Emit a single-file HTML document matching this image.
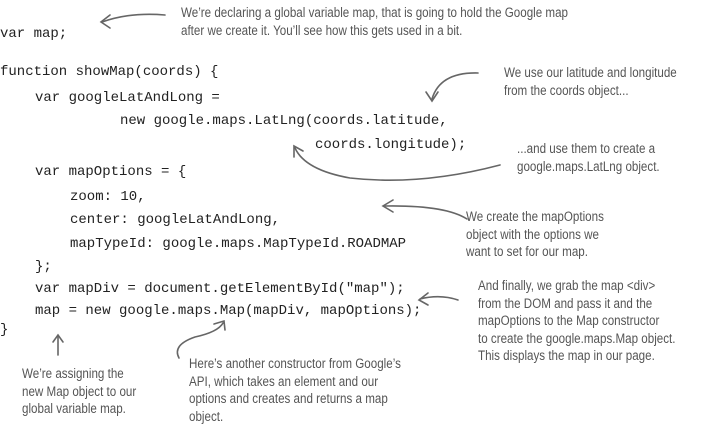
<!DOCTYPE html>
<html><head><meta charset="utf-8"><style>
body{margin:0;width:712px;height:431px;background:#fff;position:relative;overflow:hidden}
.c{position:absolute;font-family:"Liberation Mono",monospace;font-size:14px;color:#222;white-space:pre;line-height:16px}
.h{position:absolute;font-family:"Liberation Sans Narrow","Liberation Sans",sans-serif;font-size:13.5px;color:#555;line-height:17.5px;white-space:pre;transform-origin:0 0;transform:scaleX(0.86)}
svg{position:absolute;left:0;top:0}
</style></head><body>
<div class="c" style="left:0;top:26px">var map;</div>
<div class="c" style="left:0;top:64px">function showMap(coords) {</div>
<div class="c" style="left:35px;top:90px">var googleLatAndLong =</div>
<div class="c" style="left:120px;top:113px">new google.maps.LatLng(coords.latitude,</div>
<div class="c" style="left:315px;top:137px">coords.longitude);</div>
<div class="c" style="left:35px;top:164px">var mapOptions = {</div>
<div class="c" style="left:70px;top:189px">zoom: 10,</div>
<div class="c" style="left:70px;top:212px">center: googleLatAndLong,</div>
<div class="c" style="left:70px;top:236px">mapTypeId: google.maps.MapTypeId.ROADMAP</div>
<div class="c" style="left:35px;top:259px">};</div>
<div class="c" style="left:35px;top:281px">var mapDiv = document.getElementById("map");</div>
<div class="c" style="left:35px;top:303px">map = new google.maps.Map(mapDiv, mapOptions);</div>
<div class="c" style="left:0;top:322px">}</div>

<div class="h" style="left:181px;top:4px">We’re declaring a global variable map, that is going to hold the Google map
after we create it. You’ll see how this gets used in a bit.</div>
<div class="h" style="left:504px;top:64px">We use our latitude and longitude
from the coords object...</div>
<div class="h" style="left:517px;top:140px">...and use them to create a
google.maps.LatLng object.</div>
<div class="h" style="left:466px;top:208px">We create the mapOptions
object with the options we
want to set for our map.</div>
<div class="h" style="left:478px;top:277px">And finally, we grab the map &lt;div&gt;
from the DOM and pass it and the
mapOptions to the Map constructor
to create the google.maps.Map object.
This displays the map in our page.</div>
<div class="h" style="left:22px;top:365px">We’re assigning the
new Map object to our
global variable map.</div>
<div class="h" style="left:189px;top:355px">Here’s another constructor from Google’s
API, which takes an element and our
options and creates and returns a map
object.</div>

<svg width="712" height="431" fill="none" stroke="#666" stroke-width="1.6" stroke-linecap="round">
<path d="M165 15 Q130 12 102 22"/><path d="M110 15 L101 22 L110 28"/>
<path d="M478 73 Q440 72 432 99"/><path d="M426 92 L432 101 L438 92"/>
<path d="M467 219 Q445 205 385 206"/><path d="M393 200 L383 206 L393 212"/>
<path d="M500 165 Q420 186 350 178 Q305 170 295 148"/><path d="M294 157 L294 146 L303 151"/>
<path d="M458 300 Q440 294 420 299"/><path d="M428 293 L419 300 L428 305"/>
<path d="M58 355 L58 336"/><path d="M53 342 L58 335 L63 342"/>
<path d="M179 358 Q172 345 195 337 Q218 332 223 323"/><path d="M214 324 L224 321 L225 330"/>
</svg>
</body></html>
